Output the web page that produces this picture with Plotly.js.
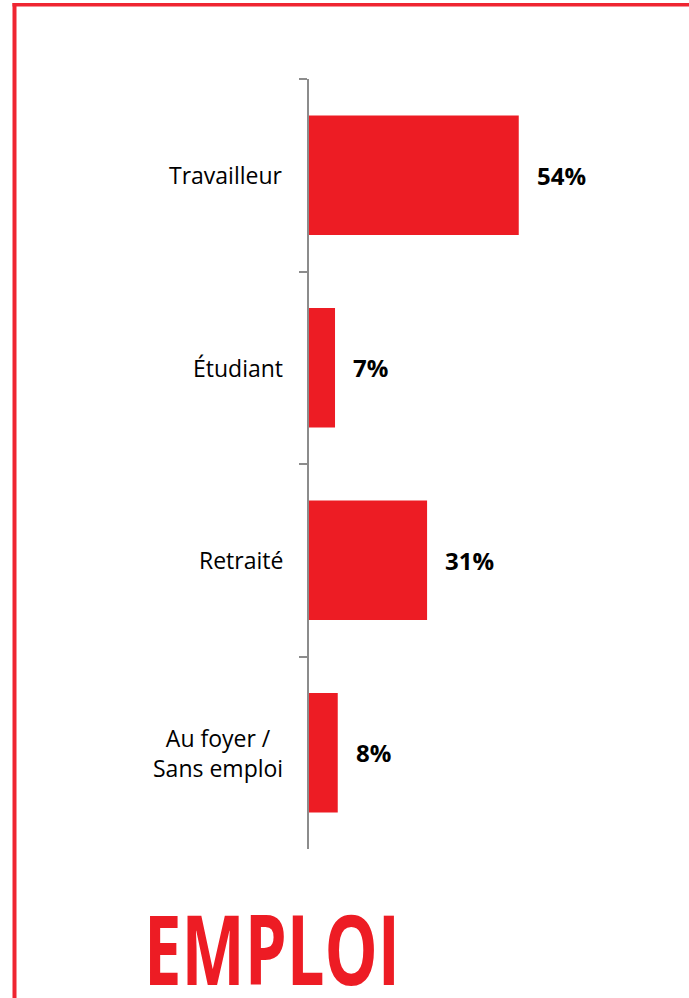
<!DOCTYPE html>
<html>
<head>
<meta charset="utf-8">
<script src="https://cdn.plot.ly/plotly-3.0.1.min.js"></script>
<style>
  html, body { margin: 0; padding: 0; background: #ffffff; }
  #chart { width: 689px; height: 998px; }
</style>
</head>
<body>
<div id="chart"></div>
<script>
// ---- data ----
const categories = ["Travailleur", "Étudiant", "Retraité", "Au foyer /<br>Sans emploi"];
const values = [54, 6.7, 30.4, 7.4];          // bar lengths (%)
const valueLabels = ["54%", "7%", "31%", "8%"]; // printed labels
const chartTitle = "EMPLOI";

// ---- layout helpers (pixel -> paper) ----
const W = 689, H = 998;
const M = { l: 309, r: 11, t: 79, b: 149 };
const PW = W - M.l - M.r, PH = H - M.t - M.b;
const px = x => (x - M.l) / PW;
const py = y => 1 - (y - M.t) / PH;

const red = "#ed1c24";
const borderRed = "#ef2531";
const TITLE_SIZE = 67;

const trace = {
  type: "bar",
  orientation: "h",
  y: categories,
  x: values,
  marker: { color: red, line: { width: 0 } },
  hoverinfo: "none"
};

const annotations = [];
categories.forEach((c, i) => {
  // value labels
  annotations.push({
    xref: "x", yref: "y", x: values[i], y: c,
    text: valueLabels[i], showarrow: false,
    xanchor: "left", yanchor: "middle", xshift: 16,
    font: { family: "Open Sans, sans-serif", size: 24, color: "#000000", weight: "bold" }
  });
  // category labels (centred multi-line)
  annotations.push({
    xref: "paper", yref: "y", x: 0, y: c,
    text: c, showarrow: false,
    xanchor: "right", yanchor: "middle", align: "center", xshift: -24,
    font: { family: "Open Sans, sans-serif", size: 23, color: "#000000" }
  });
});
// big title
annotations.push({
  xref: "paper", yref: "paper", x: px(272), y: py(945),
  text: "<b>" + chartTitle + "</b>", showarrow: false,
  xanchor: "center", yanchor: "middle",
  font: { family: "Open Sans, sans-serif", size: TITLE_SIZE, color: red }
});

const shapes = [
  { type: "line", xref: "paper", yref: "paper", x0: px(14.5), x1: px(14.5), y0: py(3), y1: py(1002),
    line: { color: borderRed, width: 4 } },
  { type: "line", xref: "paper", yref: "paper", x0: px(12.5), x1: px(700), y0: py(4.8), y1: py(4.8),
    line: { color: borderRed, width: 3.5 } }
];

const layout = {
  width: W, height: H,
  margin: M,
  paper_bgcolor: "#ffffff",
  plot_bgcolor: "#ffffff",
  showlegend: false,
  bargap: 0.38,
  xaxis: {
    range: [0, 95], showgrid: false, zeroline: false, showline: false,
    showticklabels: false, ticks: "", fixedrange: true
  },
  yaxis: {
    type: "category", autorange: "reversed",
    showgrid: false, zeroline: false,
    showline: true, linecolor: "#8c8c8c", linewidth: 2,
    ticks: "outside", tickson: "boundaries", ticklen: 8, tickwidth: 2, tickcolor: "#8c8c8c",
    showticklabels: false, fixedrange: true
  },
  annotations: annotations,
  shapes: shapes
};

Plotly.newPlot("chart", [trace], layout, { displayModeBar: false, staticPlot: true }).then(() => {
  // The reference title uses a condensed face; stretch the text vertically so its
  // cap height (~69px) and width (~250px) both match.
  const anns = document.querySelectorAll("#chart g.annotation");
  const t = anns[anns.length - 1].querySelector("text");
  if (!t) return;
  const rect = t.getBoundingClientRect();
  const bb = t.getBBox();
  const ascent = 1.069 * TITLE_SIZE, cap = 0.714 * TITLE_SIZE;
  const B = rect.top + ascent;              // screen baseline
  const bLocal = bb.y + ascent;             // local baseline
  const targetBaseline = 984, targetCap = 69, targetCx = 272;
  const s = targetCap / cap;
  const dx = targetCx - (rect.left + rect.width / 2);
  t.setAttribute("transform",
    "translate(" + dx + "," + (bLocal + (targetBaseline - B)) + ") scale(1," + s + ") translate(0," + (-bLocal) + ")");
});
</script>
</body>
</html>
